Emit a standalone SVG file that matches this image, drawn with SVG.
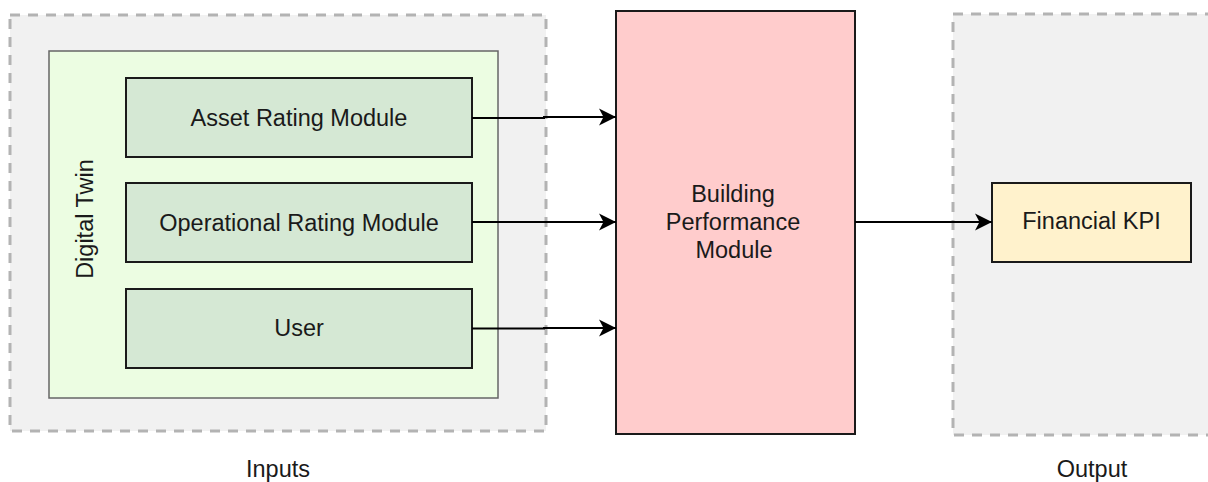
<svg xmlns="http://www.w3.org/2000/svg" width="1208" height="482" viewBox="0 0 1208 482">
<style>
text{font-family:"Liberation Sans",Arial,sans-serif;font-size:23.5px;fill:#1a1a1a}
.zone{fill:#f1f1f1;stroke:#b3b3b3;stroke-width:3;stroke-dasharray:10 8}
.mod{fill:#d5e8d4;stroke:#1a1a1a;stroke-width:2}
.edge{fill:none;stroke:#000;stroke-width:2}
</style>
<defs>
<marker id="arr" viewBox="-18 -10 20 20" refX="0" refY="0" markerWidth="20" markerHeight="20" markerUnits="userSpaceOnUse" orient="auto">
<path d="M0,0 L-17,-8.5 L-12.5,0 L-17,8.5 Z" fill="#000"/>
</marker>
</defs>
<g id="inputs">
<rect class="zone" x="10" y="15" width="536" height="416"/>
<text x="278" y="477" text-anchor="middle">Inputs</text>
</g>
<g id="output">
<rect class="zone" x="953" y="14" width="290" height="421"/>
<text x="1092" y="477" text-anchor="middle">Output</text>
</g>
<g id="digital-twin">
<rect x="49" y="51" width="449" height="347" fill="#ecfde2" stroke="#666" stroke-width="1.5"/>
<text transform="translate(93,219) rotate(-90)" text-anchor="middle">Digital Twin</text>
</g>
<g id="asset-rating">
<rect class="mod" x="126" y="78" width="346" height="79"/>
<text x="299" y="125.5" text-anchor="middle">Asset Rating Module</text>
</g>
<g id="operational-rating">
<rect class="mod" x="126" y="183" width="346" height="79"/>
<text x="299" y="230.5" text-anchor="middle">Operational Rating Module</text>
</g>
<g id="user">
<rect class="mod" x="126" y="289" width="346" height="79"/>
<text x="299" y="336" text-anchor="middle">User</text>
</g>
<g id="building-performance">
<rect x="616" y="11" width="239" height="423" fill="#ffcccc" stroke="#1a1a1a" stroke-width="2"/>
<text x="733" y="202" text-anchor="middle">Building</text>
<text x="733" y="230" text-anchor="middle">Performance</text>
<text x="734" y="258" text-anchor="middle">Module</text>
</g>
<g id="financial-kpi">
<rect x="992" y="183" width="199" height="79" fill="#fff2cc" stroke="#1a1a1a" stroke-width="2"/>
<text x="1091.5" y="229" text-anchor="middle">Financial KPI</text>
</g>
<g id="connectors">
<path class="edge" d="M472,118 H544 V117 H616" marker-end="url(#arr)"/>
<path class="edge" d="M472,222 H616" marker-end="url(#arr)"/>
<path class="edge" d="M472,328.5 H544 V328 H616" marker-end="url(#arr)"/>
<path class="edge" d="M855,222 H992" marker-end="url(#arr)"/>
</g>
</svg>
